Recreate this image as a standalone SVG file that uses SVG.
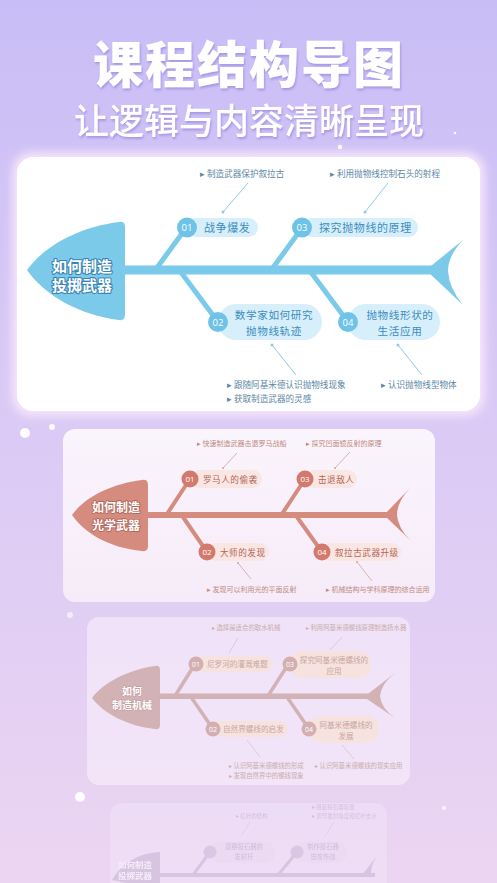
<svg xmlns="http://www.w3.org/2000/svg" width="497" height="883" viewBox="0 0 497 883">
<defs>
<linearGradient id="bg" x1="0" y1="0" x2="0" y2="1">
<stop offset="0" stop-color="#c8bdf6"/>
<stop offset="0.45" stop-color="#d9c9f5"/>
<stop offset="1" stop-color="#ecd5f2"/>
</linearGradient>
<linearGradient id="c2" x1="0" y1="0" x2="0" y2="1">
<stop offset="0" stop-color="#fdf8fd"/>
<stop offset="1" stop-color="#f8eef9"/>
</linearGradient>
<filter id="glow" x="-10%" y="-10%" width="120%" height="120%"><feGaussianBlur stdDeviation="5"/></filter>
<filter id="tsh" x="-10%" y="-20%" width="120%" height="150%"><feDropShadow dx="1" dy="2" stdDeviation="1.2" flood-color="#9d8de0" flood-opacity="0.8"/></filter>
<style>
text{font-family:"Noto Sans CJK SC","Noto Sans",sans-serif;}
.title{font-size:50px;font-weight:900;fill:#fff;text-anchor:middle;letter-spacing:2px;}
.sub{font-size:35px;font-weight:500;fill:#fff;text-anchor:middle;}
.head{font-weight:700;fill:#fff;text-anchor:middle;paint-order:stroke;stroke-linejoin:round;}
.num{fill:#fff;text-anchor:middle;font-family:"Open Sans","Noto Sans",sans-serif;}
.mid{text-anchor:middle;}
.b1 .main{fill:#7bcaea;} .b1 .bone{stroke:#7bcaea;stroke-width:5;stroke-linecap:round;fill:none;}
.b1 .circ{fill:#6ec3e7;} .b1 .pill{fill:#d6effa;} .b1 .lab{fill:#3d8dbd;font-size:11px;letter-spacing:0.6px;}
.b1 .lab2{font-size:10.6px;}
.b1 .ann{fill:#5d87a6;font-size:8.6px;} .b1 .con{stroke:#8dcbe4;stroke-width:1;} .b1 .dot{fill:#8dcbe4;}
.b1 .head{font-size:15px;stroke:#3a84b3;stroke-width:2.2;}
.b2 .main{fill:#d58c7f;} .b2 .bone{stroke:#d58c7f;stroke-width:4;stroke-linecap:round;fill:none;}
.b2 .circ{fill:#d27a6d;} .b2 .pill{fill:#fae6e2;} .b2 .lab{fill:#b3665b;font-size:8.6px;letter-spacing:0.5px;}
.b2 .ann{fill:#c08a80;font-size:7px;} .b2 .con{stroke:#d7aaa3;stroke-width:0.9;} .b2 .dot{fill:#d7aaa3;}
.b2 .head{font-size:12px;stroke:#b4675c;stroke-width:1.8;}
.b3 .main{fill:#d2b2b5;} .b3 .bone{stroke:#d2b2b5;stroke-width:3.5;stroke-linecap:round;fill:none;}
.b3 .circ{fill:#d3afb2;} .b3 .pill{fill:#f6e3df;} .b3 .lab{fill:#caa69f;font-size:7.6px;}
.b3 .ann{fill:#c9adac;font-size:6.4px;} .b3 .con{stroke:#dcc3c3;stroke-width:0.8;}
.b3 .head{font-size:10px;stroke:#c49ea1;stroke-width:1.2;}
.b4 .main{fill:#c7b7d3;} .b4 .bone{stroke:#c7b7d3;stroke-width:3;fill:none;}
.b4 .circ{fill:#cdbdd8;} .b4 .pill{fill:#ecdff1;} .b4 .lab{fill:#bca9c9;font-size:6.3px;}
.b4 .ann{fill:#c4b1cf;font-size:5.5px;} .b4 .con{stroke:#d6c8df;stroke-width:0.8;}
</style>
</defs>

<rect width="497" height="883" fill="url(#bg)"/>

<g id="decor" fill="#fff">
<circle cx="455" cy="133" r="1.3" opacity="0.9"/>
<circle cx="340" cy="147" r="2.2"/>
<circle cx="25" cy="433" r="5" opacity="0.95"/>
<circle cx="52" cy="427" r="3" opacity="0.9"/>
<circle cx="70" cy="615" r="3" opacity="0.6"/>
<circle cx="80" cy="797" r="5" opacity="0.95"/>
<circle cx="444" cy="808" r="2" opacity="0.7"/>
</g>

<g id="title" filter="url(#tsh)">
<text class="title" x="249" y="83">课程结构导图</text>
<text class="sub" x="249" y="134">让逻辑与内容清晰呈现</text>
</g>

<!-- card 4 (faded, bottom) -->
<g id="card4" class="b4" opacity="0.55">
<rect x="110" y="803" width="277" height="100" rx="12" fill="#f3e6f7" opacity="0.8"/>
<path class="main" d="M160,852 C140,853 122,862 112,880 L160,890 Z"/>
<rect class="main" x="160" y="873" width="215" height="4"/>
<path class="main" d="M362,875 L377,856 Q370,866 371,877 Z"/>
<line class="bone" x1="193" y1="875" x2="210" y2="852"/>
<line class="bone" x1="278" y1="875" x2="297" y2="852"/>
<rect class="pill" x="210" y="841" width="65" height="22" rx="11"/>
<circle class="circ" cx="210" cy="852" r="6.5"/>
<text class="lab mid" x="244" y="849">观察投石器的</text>
<text class="lab mid" x="244" y="859">发射杆</text>
<rect class="pill" x="297" y="841" width="50" height="22" rx="11"/>
<circle class="circ" cx="297" cy="852" r="6.5"/>
<text class="lab mid" x="323" y="849">制作投石器</text>
<text class="lab mid" x="323" y="859">进攻作战</text>
<text class="ann" x="236" y="818">▸ 杠杆的结构</text>
<text class="ann" x="312" y="809">▸ 组装投石器装置</text>
<text class="ann" x="312" y="818">▸ 调节发射角度和杠杆支点</text>
<line class="con" x1="250" y1="822" x2="241" y2="836"/>
<line class="con" x1="334" y1="822" x2="325" y2="836"/>
<text class="head" x="135" y="868" font-size="8.5">如何制造</text>
<text class="head" x="135" y="879" font-size="8.5">投掷武器</text>
</g>

<!-- card 3 -->
<g id="card3" class="b3">
<rect x="87" y="617" width="323" height="168" rx="12" fill="#fbf3fb" opacity="0.55"/>
<g id="c3-fish">
<path class="main" d="M160,670 Q160,665 155,666 C128,670 104,682 92,698 C104,714 128,726 155,729 Q160,730 160,725 Z"/>
<rect class="main" x="159" y="693.5" width="218" height="5.5"/>
<path class="main" d="M364,697 L395,673 Q381,684 380,696 Q381,708 395,718 Z"/>
<text class="head" x="132" y="694.5">如何</text>
<text class="head" x="132" y="709">制造机械</text>
</g>
<g id="c3-n1"><line class="bone" x1="175" y1="696" x2="195" y2="664"/><rect class="pill" x="195" y="656" width="78" height="16" rx="8"/><circle class="circ" cx="196" cy="664" r="7.5"/><text class="num" x="196" y="667" font-size="7">01</text><text class="lab" x="207" y="667">尼罗河的灌溉难题</text></g>
<g id="c3-n3"><line class="bone" x1="268" y1="696" x2="289" y2="663"/><rect class="pill" x="289" y="651" width="82" height="27" rx="13"/><circle class="circ" cx="290" cy="664" r="7.5"/><text class="num" x="290" y="667" font-size="7">03</text><text class="lab mid" x="334" y="662.5">探究阿基米德螺线的</text><text class="lab mid" x="334" y="673.5">应用</text></g>
<g id="c3-n2"><line class="bone" x1="191" y1="697" x2="213" y2="729"/><rect class="pill" x="213" y="721" width="75" height="16" rx="8"/><circle class="circ" cx="213" cy="729" r="7.5"/><text class="num" x="213" y="732" font-size="7">02</text><text class="lab" x="223" y="732">自然界螺线的启发</text></g>
<g id="c3-n4"><line class="bone" x1="287" y1="697" x2="309" y2="729"/><rect class="pill" x="309" y="716" width="70" height="27" rx="13"/><circle class="circ" cx="309" cy="729" r="7.5"/><text class="num" x="309" y="732" font-size="7">04</text><text class="lab mid" x="346" y="727.5">阿基米德螺线的</text><text class="lab mid" x="346" y="738.5">发展</text></g>
<g id="c3-ann">
<text class="ann" x="212" y="630">▸ 选择最适合的取水机械</text>
<text class="ann" x="306" y="630">▸ 利用阿基米德螺线原理制造扬水器</text>
<text class="ann" x="229" y="768">▸ 认识阿基米德螺线的形成</text>
<text class="ann" x="229" y="778">▸ 发现自然界中的螺线现象</text>
<text class="ann" x="315" y="768">▸ 认识阿基米德螺线的现实应用</text>
</g>
</g>

<!-- card 2 -->
<g id="card2" class="b2">
<rect x="63" y="429" width="372" height="173" rx="12" fill="url(#c2)" opacity="0.92"/>
<g id="c2-fish">
<path class="main" d="M148,485 Q148,479 142,480 C110,484 84,498 72,515 C84,533 110,548 142,551 Q148,552 148,546 Z"/>
<rect class="main" x="147" y="512" width="250" height="6"/>
<path class="main" d="M384,515 L410,488 Q397,502 397,515 Q398,528 410,540 Z"/>
<text class="head" x="116" y="511.5">如何制造</text>
<text class="head" x="116" y="530">光学武器</text>
</g>
<g id="c2-n1"><line class="bone" x1="167" y1="514" x2="190" y2="479"/><rect class="pill" x="190" y="470" width="72" height="18" rx="9"/><circle class="circ" cx="190" cy="479" r="8.5"/><text class="num" x="190" y="482" font-size="8">01</text><text class="lab" x="203" y="482.5">罗马人的偷袭</text></g>
<g id="c2-n3"><line class="bone" x1="282" y1="514" x2="305" y2="479"/><rect class="pill" x="305" y="470" width="52" height="18" rx="9"/><circle class="circ" cx="305" cy="479" r="8.5"/><text class="num" x="305" y="482" font-size="8">03</text><text class="lab" x="318" y="482.5">击退敌人</text></g>
<g id="c2-n2"><line class="bone" x1="183" y1="517" x2="207" y2="552"/><rect class="pill" x="207" y="543" width="62" height="18" rx="9"/><circle class="circ" cx="207" cy="552" r="8.5"/><text class="num" x="207" y="555" font-size="8">02</text><text class="lab" x="220" y="555.5">大师的发现</text></g>
<g id="c2-n4"><line class="bone" x1="297" y1="517" x2="322" y2="552"/><rect class="pill" x="322" y="543" width="79" height="18" rx="9"/><circle class="circ" cx="322" cy="552" r="8.5"/><text class="num" x="322" y="555" font-size="8">04</text><text class="lab" x="335" y="555.5">叙拉古武器升级</text></g>
<g id="c2-ann">
<text class="ann" x="197" y="446">▸ 快速制造武器击退罗马战船</text>
<text class="ann" x="306" y="446">▸ 探究凹面镜反射的原理</text>
<text class="ann" x="207" y="592">▸ 发现可以利用光的平面反射</text>
<text class="ann" x="326" y="592">▸ 机械结构与学科原理的综合运用</text>
</g>
</g>

<!-- card 1 -->
<g id="card1" class="b1">
<rect x="12" y="152" width="473" height="264" rx="20" fill="#fbe9fb" opacity="0.9" filter="url(#glow)"/>
<rect x="17" y="157" width="463" height="254" rx="16" fill="#ffffff"/>
<g id="c1-fish">
<path class="main" d="M125,227 Q125,221 119,222 C80,227 45,245 27,270 C45,296 80,315 119,320 Q125,321 125,315 Z"/>
<rect class="main" x="124" y="265.5" width="318" height="9"/>
<path class="main" d="M426,270 L463,240 Q448,256 448,271 Q449,288 463,305 Z"/>
<text class="head" x="82" y="272">如何制造</text>
<text class="head" x="82" y="291">投掷武器</text>
</g>
<g id="c1-n1"><line class="bone" x1="156" y1="269" x2="186" y2="228"/><rect class="pill" x="186" y="218" width="72" height="19" rx="9.5"/><circle class="circ" cx="187" cy="227.5" r="10"/><text class="num" x="187" y="231" font-size="9.5">01</text><text class="lab" x="204" y="232">战争爆发</text></g>
<g id="c1-n3"><line class="bone" x1="272" y1="269" x2="302" y2="228"/><rect class="pill" x="302" y="218" width="116" height="19" rx="9.5"/><circle class="circ" cx="302" cy="227.5" r="10"/><text class="num" x="302" y="231" font-size="9.5">03</text><text class="lab" x="319" y="232">探究抛物线的原理</text></g>
<g id="c1-n2"><line class="bone" x1="180" y1="271" x2="218" y2="322"/><rect class="pill" x="218" y="304" width="104" height="36" rx="18"/><circle class="circ" cx="218" cy="322" r="10"/><text class="num" x="218" y="325.5" font-size="9.5">02</text><text class="lab lab2 mid" x="274" y="319">数学家如何研究</text><text class="lab lab2 mid" x="274" y="334.5">抛物线轨迹</text></g>
<g id="c1-n4"><line class="bone" x1="310" y1="271" x2="348" y2="322"/><rect class="pill" x="348" y="304" width="92" height="36" rx="18"/><circle class="circ" cx="348" cy="322" r="10"/><text class="num" x="348" y="325.5" font-size="9.5">04</text><text class="lab lab2 mid" x="400" y="319">抛物线形状的</text><text class="lab lab2 mid" x="400" y="334.5">生活应用</text></g>
<g id="c1-ann">
<text class="ann" x="200" y="177">▸ 制造武器保护叙拉古</text>
<text class="ann" x="330" y="177">▸ 利用抛物线控制石头的射程</text>
<text class="ann" x="227" y="388">▸ 跟随阿基米德认识抛物线现象</text>
<text class="ann" x="227" y="402">▸ 获取制造武器的灵感</text>
<text class="ann" x="381" y="388">▸ 认识抛物线型物体</text>
</g>
</g>

<g id="connectors">
<g class="b1">
<line class="con" x1="248" y1="183" x2="223" y2="212"/><circle class="dot" cx="223" cy="212" r="1.5"/>
<line class="con" x1="388" y1="183" x2="365" y2="212"/><circle class="dot" cx="365" cy="212" r="1.5"/>
<line class="con" x1="272" y1="345" x2="296" y2="375"/><circle class="dot" cx="272" cy="345" r="1.5"/>
<line class="con" x1="398" y1="345" x2="422" y2="375"/><circle class="dot" cx="398" cy="345" r="1.5"/>
</g>
<g class="b2">
<line class="con" x1="237" y1="453" x2="223" y2="468"/><circle class="dot" cx="223" cy="468" r="1.1"/>
<line class="con" x1="350" y1="452" x2="335" y2="468"/><circle class="dot" cx="335" cy="468" r="1.1"/>
<line class="con" x1="238" y1="563" x2="251" y2="579"/><circle class="dot" cx="238" cy="563" r="1.1"/>
<line class="con" x1="357" y1="562" x2="372" y2="581"/><circle class="dot" cx="357" cy="562" r="1.1"/>
</g>
<g class="b3">
<line class="con" x1="238" y1="638" x2="229" y2="653"/>
<line class="con" x1="342" y1="637" x2="330" y2="650"/>
<line class="con" x1="247" y1="740" x2="260" y2="757"/>
<line class="con" x1="342" y1="745" x2="354" y2="759"/>
</g>
</g>
</svg>
